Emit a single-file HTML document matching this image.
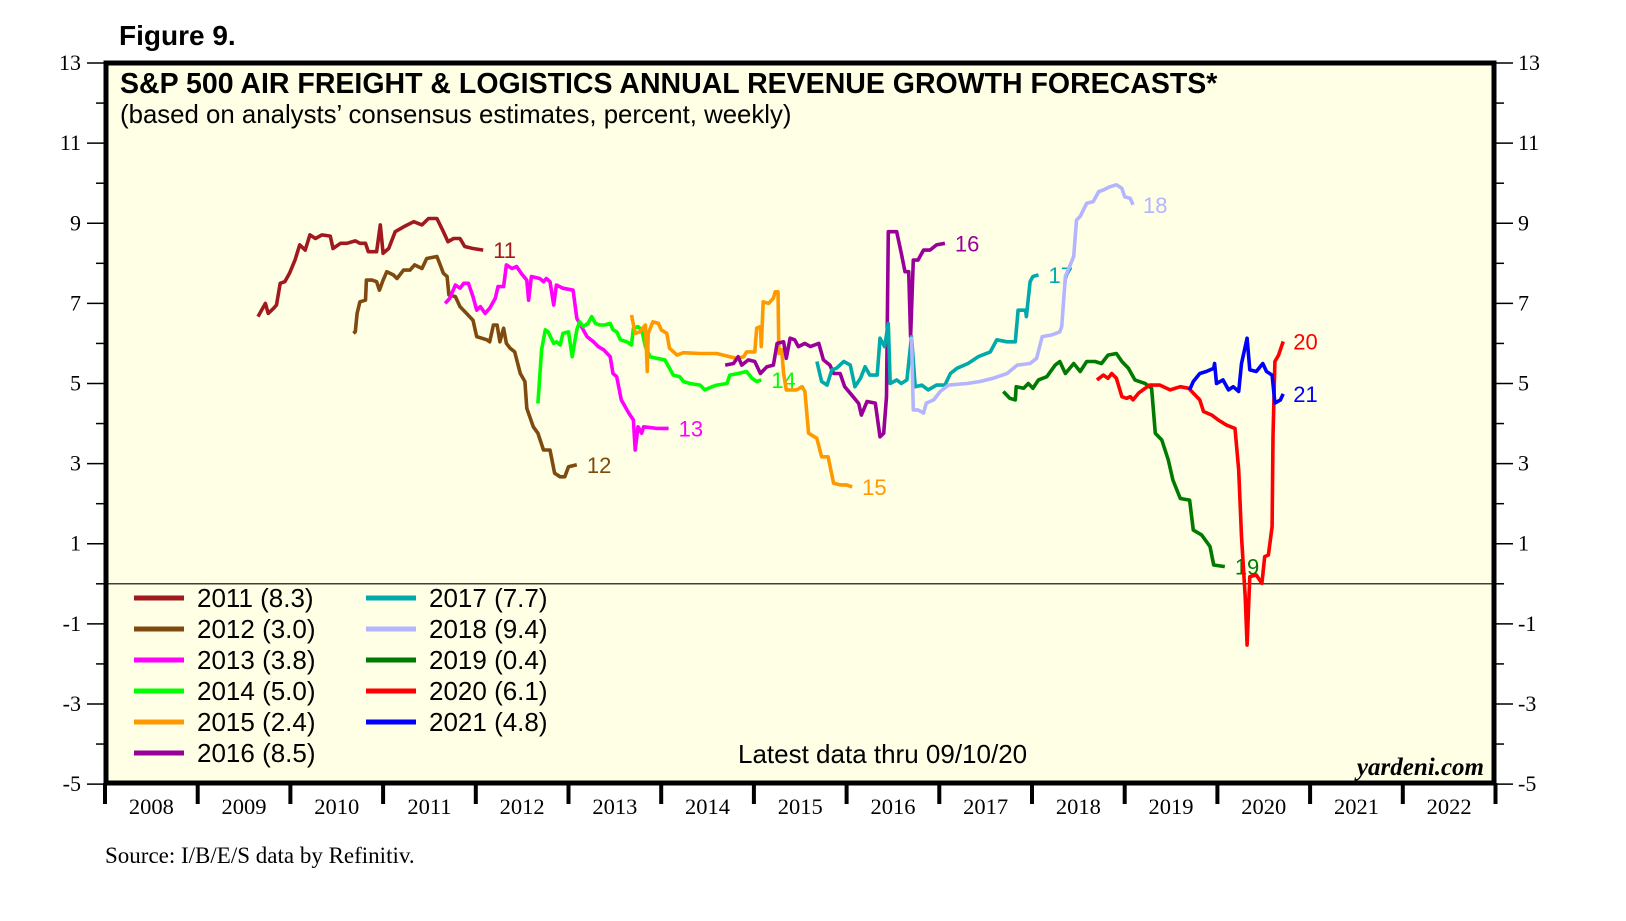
<!DOCTYPE html>
<html><head><meta charset="utf-8"><style>
html,body{margin:0;padding:0;background:#fff;}
body{width:1626px;height:916px;overflow:hidden;}
svg text{font-family:"Liberation Sans",Arial,sans-serif;}
</style></head><body>
<svg id="chart" width="1626" height="916" viewBox="0 0 1626 916" xmlns="http://www.w3.org/2000/svg">
<text x="119" y="45" font-size="28" font-weight="bold">Figure 9.</text>
<rect x="106" y="63" width="1388" height="720" fill="#FFFFE6" stroke="#000" stroke-width="5"/>
<g id="axes"></g>
<line x1="106" x2="1494" y1="583.8" y2="583.8" stroke="#000" stroke-width="1.2"/>
<g id="series"></g>
<text x="120" y="93" font-size="28.5" font-weight="bold">S&amp;P 500 AIR FREIGHT &amp; LOGISTICS ANNUAL REVENUE GROWTH FORECASTS*</text>
<text x="120" y="123" font-size="25.8">(based on analysts’ consensus estimates, percent, weekly)</text>
<g id="legend"></g>
<text x="738" y="763" font-size="26">Latest data thru 09/10/20</text>
<text x="1484" y="775" font-size="25" font-weight="bold" font-style="italic" text-anchor="end" style="font-family:'Liberation Serif',serif">yardeni.com</text>
<text x="105" y="863" font-size="23" style="font-family:'Liberation Serif',serif">Source: I/B/E/S data by Refinitiv.</text>
</svg>
<script>
const yTicks = [-5,-3,-1,1,3,5,7,9,11,13];
const yMinor = [-4,-2,0,2,4,6,8,10,12];
const xYears = [2008,2009,2010,2011,2012,2013,2014,2015,2016,2017,2018,2019,2020,2021,2022];
const seriesNames = ["2011","2012","2013","2014","2015","2016","2017","2018","2019","2020","2021"];
const legendValues = ["8.3","3.0","3.8","5.0","2.4","8.5","7.7","9.4","0.4","6.1","4.8"];
const endLabels = ["11","12","13","14","15","16","17","18","19","20","21"];
const colors = ["#A0191E","#7F4A0F","#FF00FF","#00FF00","#FF9900","#990099","#00AAAA","#B4B4FF","#007A00","#FF0000","#0000FF"];

const s2011 = [[2009.65,6.67],[2009.73,7.0],[2009.76,6.75],[2009.82,6.88],[2009.85,6.96],[2009.89,7.5],[2009.94,7.54],[2009.99,7.75],[2010.05,8.08],[2010.10,8.46],[2010.16,8.33],[2010.21,8.71],[2010.27,8.62],[2010.34,8.71],[2010.43,8.68],[2010.46,8.37],[2010.54,8.5],[2010.61,8.5],[2010.70,8.56],[2010.75,8.5],[2010.81,8.5],[2010.84,8.29],[2010.93,8.29],[2010.97,8.96],[2011.00,8.25],[2011.06,8.37],[2011.13,8.79],[2011.22,8.91],[2011.33,9.04],[2011.42,8.96],[2011.49,9.12],[2011.58,9.12],[2011.65,8.79],[2011.70,8.54],[2011.76,8.62],[2011.83,8.62],[2011.88,8.42],[2011.97,8.37],[2012.08,8.33]];
const s2012 = [[2010.68,6.25],[2010.70,6.29],[2010.72,6.75],[2010.75,7.04],[2010.81,7.08],[2010.82,7.58],[2010.88,7.58],[2010.93,7.54],[2010.96,7.33],[2011.00,7.58],[2011.04,7.79],[2011.11,7.71],[2011.15,7.62],[2011.22,7.83],[2011.29,7.83],[2011.34,7.96],[2011.42,7.87],[2011.47,8.12],[2011.58,8.17],[2011.61,8.0],[2011.65,7.75],[2011.69,7.67],[2011.71,7.21],[2011.78,7.17],[2011.83,6.92],[2011.90,6.75],[2011.97,6.58],[2012.01,6.17],[2012.12,6.09],[2012.15,6.04],[2012.19,6.46],[2012.23,6.46],[2012.26,6.04],[2012.30,6.38],[2012.33,6.0],[2012.37,5.88],[2012.42,5.79],[2012.48,5.25],[2012.53,5.05],[2012.55,4.38],[2012.62,3.92],[2012.67,3.76],[2012.73,3.34],[2012.80,3.34],[2012.85,2.76],[2012.91,2.67],[2012.96,2.67],[2013.00,2.92],[2013.09,2.97]];
const s2013 = [[2011.67,7.0],[2011.72,7.13],[2011.78,7.46],[2011.83,7.38],[2011.87,7.5],[2011.92,7.5],[2011.97,7.17],[2012.01,6.83],[2012.05,6.92],[2012.10,6.75],[2012.15,6.88],[2012.21,7.13],[2012.24,7.42],[2012.30,7.42],[2012.33,7.96],[2012.39,7.87],[2012.44,7.92],[2012.49,7.75],[2012.55,7.58],[2012.57,7.08],[2012.60,7.67],[2012.69,7.62],[2012.73,7.54],[2012.76,7.62],[2012.80,7.54],[2012.84,6.96],[2012.87,7.46],[2012.94,7.38],[2013.05,7.33],[2013.09,6.63],[2013.20,6.17],[2013.27,6.04],[2013.32,5.92],[2013.38,5.84],[2013.45,5.67],[2013.48,5.25],[2013.52,5.17],[2013.57,4.59],[2013.65,4.26],[2013.70,4.09],[2013.72,3.34],[2013.75,3.92],[2013.79,3.76],[2013.81,3.92],[2013.95,3.88],[2014.08,3.88]];
const s2014 = [[2012.67,4.5],[2012.71,5.84],[2012.75,6.34],[2012.78,6.29],[2012.84,6.0],[2012.87,6.04],[2012.91,5.96],[2012.94,6.25],[2013.00,6.29],[2013.04,5.67],[2013.09,6.34],[2013.12,6.54],[2013.16,6.42],[2013.21,6.5],[2013.25,6.67],[2013.29,6.5],[2013.34,6.46],[2013.39,6.46],[2013.45,6.5],[2013.48,6.34],[2013.52,6.29],[2013.56,6.09],[2013.63,6.04],[2013.68,5.96],[2013.70,6.38],[2013.75,6.42],[2013.79,6.34],[2013.83,5.92],[2013.88,5.67],[2013.95,5.63],[2014.04,5.59],[2014.09,5.38],[2014.13,5.21],[2014.20,5.17],[2014.24,5.05],[2014.31,5.0],[2014.42,4.96],[2014.47,4.84],[2014.55,4.92],[2014.60,4.96],[2014.71,5.0],[2014.74,5.21],[2014.83,5.25],[2014.92,5.3],[2014.98,5.13],[2015.03,5.05],[2015.08,5.09]];
const s2015 = [[2013.68,6.71],[2013.72,6.25],[2013.77,6.29],[2013.83,6.46],[2013.85,5.3],[2013.86,6.25],[2013.91,6.54],[2013.97,6.5],[2014.00,6.34],[2014.06,6.25],[2014.09,5.88],[2014.17,5.71],[2014.24,5.77],[2014.42,5.75],[2014.60,5.75],[2014.74,5.67],[2014.81,5.63],[2014.89,5.67],[2014.92,5.79],[2015.01,5.79],[2015.03,6.38],[2015.07,6.42],[2015.08,5.92],[2015.10,7.04],[2015.16,7.0],[2015.21,7.13],[2015.23,7.29],[2015.26,7.29],[2015.27,5.75],[2015.30,5.84],[2015.32,5.25],[2015.35,4.84],[2015.46,4.84],[2015.52,4.92],[2015.55,4.8],[2015.59,3.76],[2015.68,3.63],[2015.73,3.17],[2015.80,3.17],[2015.86,2.51],[2015.93,2.47],[2016.00,2.47],[2016.06,2.42]];
const s2016 = [[2014.69,5.46],[2014.78,5.5],[2014.83,5.67],[2014.87,5.46],[2014.94,5.59],[2015.01,5.55],[2015.07,5.25],[2015.14,5.42],[2015.21,5.46],[2015.25,6.0],[2015.32,6.04],[2015.35,5.63],[2015.39,6.13],[2015.44,6.09],[2015.48,5.92],[2015.55,6.0],[2015.61,5.92],[2015.70,6.0],[2015.75,5.59],[2015.82,5.46],[2015.86,5.25],[2015.93,5.25],[2015.98,4.92],[2016.07,4.67],[2016.13,4.5],[2016.16,4.21],[2016.22,4.55],[2016.31,4.51],[2016.36,3.67],[2016.40,3.76],[2016.43,4.67],[2016.45,8.79],[2016.54,8.79],[2016.59,8.25],[2016.63,7.79],[2016.67,7.79],[2016.69,6.17],[2016.72,8.08],[2016.77,8.08],[2016.83,8.33],[2016.90,8.33],[2016.97,8.46],[2017.06,8.5]];
const s2017 = [[2015.68,5.55],[2015.73,5.05],[2015.79,4.96],[2015.84,5.34],[2015.89,5.38],[2015.97,5.55],[2016.04,5.46],[2016.09,4.92],[2016.15,5.13],[2016.20,5.42],[2016.25,5.21],[2016.33,5.21],[2016.36,6.13],[2016.41,5.92],[2016.45,6.5],[2016.47,5.0],[2016.54,5.09],[2016.59,5.0],[2016.65,5.09],[2016.70,6.17],[2016.74,4.92],[2016.81,4.96],[2016.88,4.84],[2016.97,4.96],[2017.06,4.96],[2017.12,5.25],[2017.19,5.38],[2017.31,5.5],[2017.42,5.67],[2017.55,5.79],[2017.62,6.09],[2017.73,6.04],[2017.82,6.04],[2017.85,6.83],[2017.93,6.83],[2017.94,6.67],[2017.98,7.54],[2018.01,7.67],[2018.07,7.71]];
const s2018 = [[2016.70,6.17],[2016.72,4.34],[2016.77,4.34],[2016.83,4.26],[2016.86,4.51],[2016.94,4.59],[2017.01,4.8],[2017.10,4.96],[2017.30,5.0],[2017.44,5.05],[2017.58,5.13],[2017.73,5.25],[2017.84,5.46],[2017.98,5.5],[2018.05,5.63],[2018.11,6.17],[2018.21,6.21],[2018.30,6.29],[2018.32,6.42],[2018.36,7.67],[2018.45,8.17],[2018.48,9.08],[2018.52,9.17],[2018.59,9.5],[2018.66,9.54],[2018.72,9.79],[2018.77,9.83],[2018.84,9.91],[2018.91,9.96],[2018.97,9.87],[2019.00,9.66],[2019.06,9.62],[2019.09,9.46]];
const s2019 = [[2017.69,4.8],[2017.76,4.63],[2017.82,4.59],[2017.83,4.92],[2017.91,4.88],[2017.96,5.0],[2018.01,4.88],[2018.07,5.09],[2018.16,5.17],[2018.25,5.46],[2018.30,5.55],[2018.36,5.25],[2018.45,5.5],[2018.52,5.3],[2018.59,5.55],[2018.68,5.55],[2018.75,5.5],[2018.82,5.71],[2018.91,5.75],[2018.97,5.55],[2019.04,5.38],[2019.11,5.09],[2019.22,5.0],[2019.29,4.88],[2019.33,3.76],[2019.40,3.59],[2019.47,3.09],[2019.52,2.59],[2019.60,2.13],[2019.70,2.09],[2019.74,1.34],[2019.83,1.22],[2019.92,0.93],[2019.96,0.47],[2020.08,0.43]];
const s2020 = [[2018.70,5.09],[2018.77,5.21],[2018.82,5.13],[2018.86,5.25],[2018.91,5.13],[2018.97,4.67],[2019.02,4.63],[2019.06,4.67],[2019.09,4.59],[2019.15,4.76],[2019.22,4.88],[2019.27,4.96],[2019.38,4.96],[2019.49,4.84],[2019.60,4.92],[2019.69,4.88],[2019.74,4.76],[2019.81,4.59],[2019.85,4.3],[2019.94,4.21],[2020.01,4.09],[2020.10,3.96],[2020.19,3.88],[2020.23,2.84],[2020.26,1.18],[2020.30,-0.32],[2020.32,-1.53],[2020.35,0.18],[2020.42,0.22],[2020.48,0.01],[2020.51,0.68],[2020.55,0.72],[2020.59,1.43],[2020.60,3.67],[2020.62,5.55],[2020.66,5.71],[2020.71,6.05]];
const s2021 = [[2019.70,4.84],[2019.74,5.05],[2019.81,5.25],[2019.88,5.3],[2019.96,5.38],[2019.97,5.5],[2019.99,5.0],[2020.06,5.09],[2020.12,4.84],[2020.17,4.92],[2020.23,4.8],[2020.26,5.5],[2020.32,6.13],[2020.35,5.34],[2020.42,5.3],[2020.49,5.5],[2020.53,5.3],[2020.59,5.21],[2020.62,4.51],[2020.68,4.59],[2020.71,4.74]];
const allSeries = [s2011,s2012,s2013,s2014,s2015,s2016,s2017,s2018,s2019,s2020,s2021];

const NS = "http://www.w3.org/2000/svg";
const X0 = 105, XW = 92.7, Y0 = 583.8, YU = 40.06;
function X(y){ return X0 + (y - 2008) * XW; }
function Y(v){ return Y0 - v * YU; }
function mk(tag, attrs, parent){ const e = document.createElementNS(NS, tag); for (const k in attrs) e.setAttribute(k, attrs[k]); parent.appendChild(e); return e; }

const axes = document.getElementById("axes");
yTicks.forEach(v => {
  const y = Y(v);
  const tl = mk("line", {x1:87, x2:104, y1:y, y2:y, stroke:"#000", "stroke-width":1.5}, axes);
  
  
  const tr = mk("line", {x1:1496, x2:1513, y1:y, y2:y, stroke:"#000", "stroke-width":1.5}, axes);
  
  
  const ll = mk("text", {x:81, y:y+7, "font-size":22, "text-anchor":"end", style:"font-family:'Liberation Serif',serif"}, axes);
  ll.textContent = v;
  
  
  const lr = mk("text", {x:1518, y:y+7, "font-size":22, style:"font-family:'Liberation Serif',serif"}, axes);
  lr.textContent = v;
  
  
});
yMinor.forEach(v => {
  const y = Y(v);
  const a = mk("line", {x1:96, x2:104, y1:y, y2:y, stroke:"#000", "stroke-width":1.5}, axes);
  
  
  const b = mk("line", {x1:1496, x2:1504, y1:y, y2:y, stroke:"#000", "stroke-width":1.5}, axes);
  
  
});
xYears.forEach(yr => {
  const t = mk("line", {x1:X(yr), x2:X(yr), y1:783, y2:804, stroke:"#000", "stroke-width":4}, axes);
  
  
  const l = mk("text", {x:X(yr+0.5), y:814, "font-size":22.5, "text-anchor":"middle", style:"font-family:'Liberation Serif',serif"}, axes);
  l.textContent = yr;
  
  
});
const lastT = mk("line", {x1:X(2023), x2:X(2023), y1:783, y2:804, stroke:"#000", "stroke-width":4}, axes);



const sg = document.getElementById("series");
allSeries.forEach((s, i) => {
  const p = mk("polyline", {points: s.map(d => X(d[0]).toFixed(1)+","+Y(d[1]).toFixed(1)).join(" "), fill:"none", stroke:colors[i], "stroke-width":3.6, "stroke-linejoin":"round"}, sg);
  
  
  const last = s[s.length-1];
  const t = mk("text", {x:X(last[0])+10, y:Y(last[1])+8, "font-size":22, fill:colors[i]}, sg);
  t.textContent = endLabels[i];
  
  
});

const lg = document.getElementById("legend");
seriesNames.forEach((n, i) => {
  const col = i < 6 ? 0 : 1, row = i < 6 ? i : i - 6;
  const lx = col === 0 ? 134 : 366, tx = col === 0 ? 197 : 429;
  const y = 598 + row * 31;
  const ln = mk("line", {x1:lx, x2:lx+50, y1:y, y2:y, stroke:colors[i], "stroke-width":5}, lg);
  
  
  const t = mk("text", {x:tx, y:y+9, "font-size":26}, lg);
  t.textContent = n + " (" + legendValues[i] + ")";
  
  
});
</script>
</body></html>
